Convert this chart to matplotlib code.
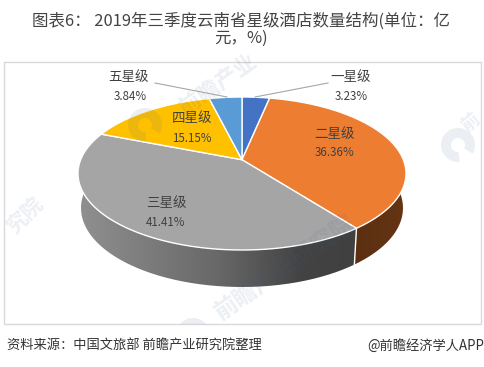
import numpy as np
import matplotlib
matplotlib.use('Agg')
import matplotlib.pyplot as plt
from matplotlib.patches import Polygon, Rectangle, Wedge, PathPatch
from matplotlib.path import Path
from matplotlib.colors import LinearSegmentedColormap

plt.rcParams['font.family'] = ['Noto Sans CJK SC', 'DejaVu Sans']

categories = ['一星级', '二星级', '三星级', '四星级', '五星级']
values = [3.23, 36.36, 41.41, 15.15, 3.84]
value_labels = ['3.23%', '36.36%', '41.41%', '15.15%', '3.84%']
colors = ['#4472C4', '#ED7D31', '#A5A5A5', '#FFC000', '#5B9BD5']
title_lines = ['图表6： 2019年三季度云南省星级酒店数量结构(单位：亿', '元，%)']
source = '资料来源：中国文旅部 前瞻产业研究院整理'
credit = '@前瞻经济学人APP'

W, H = 485, 367
fig = plt.figure(figsize=(W/100, H/100), dpi=100)
ax = fig.add_axes([0, 0, 1, 1])
ax.set_xlim(0, W); ax.set_ylim(H, 0); ax.axis('off')

CX, CY, RX, RY = 242, 173.5, 164, 76.5
BX, BY, BRX, BRY = 242, 208, 161, 79
K = 0.18

def proj(theta):
    u, v = np.sin(theta), np.cos(theta)
    d = 1 + K*v
    return u*np.sqrt(1-K*K)/d, (v+K)/d

def top(theta):
    a, b = proj(theta)
    return np.column_stack([CX+RX*a, CY-RY*b])

def bottom(theta):
    a, b = proj(theta)
    return np.column_stack([BX+BRX*a, BY-BRY*b])

box = Rectangle((4.5, 62), 476.5, 262, fc='white', ec='#D9D9D9', lw=1, zorder=1)
ax.add_patch(box)

edges = np.radians(np.concatenate([[0], np.cumsum(values)]) / sum(values) * 360)
apex = np.array([[CX, CY-RY*K]])

def wall(t0, t1):
    t = np.linspace(t0, t1, 200)
    return np.vstack([top(t), bottom(t)[::-1]])

def gradient_wall(pts, stops, z):
    cmap = LinearSegmentedColormap.from_list('w', stops)
    x0, x1 = pts[:, 0].min(), pts[:, 0].max()
    y0, y1 = pts[:, 1].min(), pts[:, 1].max()
    im = ax.imshow(np.linspace(0, 1, 256)[None, :], cmap=cmap, vmin=0, vmax=1, aspect='auto',
                   extent=[x0, x1, y1, y0], zorder=z)
    patch = PathPatch(Path(pts), transform=ax.transData, fc='none', ec='none')
    ax.add_patch(patch)
    im.set_clip_path(patch)
    ax.set_xlim(0, W); ax.set_ylim(H, 0)

orange_wall = wall(np.pi/2 - 0.35, edges[2])
gradient_wall(orange_wall, ['#5C2F11', '#633514'], 2)
grey_wall = wall(edges[2], 3*np.pi/2 + 0.1)
gradient_wall(grey_wall, [(0, '#909090'), (0.5, '#686868'), (0.8, '#434343'), (1, '#404040')], 2)
s = np.vstack([top(edges[2:3]), bottom(edges[2:3])])
ax.plot(s[:, 0], s[:, 1], color='white', lw=1, zorder=3)

for i, c in enumerate(colors):
    t = np.linspace(edges[i], edges[i+1], 200)
    ax.add_patch(Polygon(np.vstack([apex, top(t)]), closed=True, fc=c, ec='white', lw=1, zorder=4, joinstyle='round'))

# faint watermarks
WM = '#3F5F8F'
for x, y, txt, r, fs in [(218, 85, '前瞻产业', 35, 16), (285, 268, '前瞻产业研究院', 35, 17),
                         (25, 215, '究院', 45, 15), (470, 122, '前', 40, 13)]:
    tx = ax.text(x, y, txt, fontsize=fs, color=WM, alpha=0.10, rotation=r, rotation_mode='anchor',
                 ha='center', va='center', zorder=5, fontweight='bold')
    tx.set_clip_path(box)
for x, y, r0 in [(145, 125, 60), (458, 145, 60), (193, 335, 60)]:
    w = Wedge((x, y), 17, r0 + 25, r0 + 330, width=10, fc=WM, ec='none', alpha=0.10, zorder=5)
    ax.add_patch(w)
    w.set_clip_path(box)

for (x0, y0, x1, y1) in [(155, 83, 227, 97), (328, 83, 255, 97)]:
    ax.plot([x0, x1], [y0, y1], color='#A6A6A6', lw=0.8, zorder=6)

name_pos = [(350.5, 77), (335, 134), (166, 203), (192, 118), (129, 77)]
val_pos = [(351, 97), (335, 153), (166, 223), (192, 138), (130, 97)]
for n, v, a, b in zip(categories, value_labels, name_pos, val_pos):
    ax.text(a[0], a[1], n, fontsize=9.7, color='#404040', ha='center', va='center', zorder=7)
    ax.text(b[0], b[1], v, fontsize=8.3, color='#404040', ha='center', va='center', zorder=7)

ax.text(241, 21, title_lines[0], fontsize=11.85, color='#444444', ha='center', va='center')
ax.text(241, 38, title_lines[1], fontsize=11.85, color='#444444', ha='center', va='center')
ax.text(7, 346, source, fontsize=9.55, color='#333333', ha='left', va='center')
ax.text(484, 346, credit, fontsize=9.55, color='#333333', ha='right', va='center')

fig.savefig('out.png', dpi=100, facecolor='white')
